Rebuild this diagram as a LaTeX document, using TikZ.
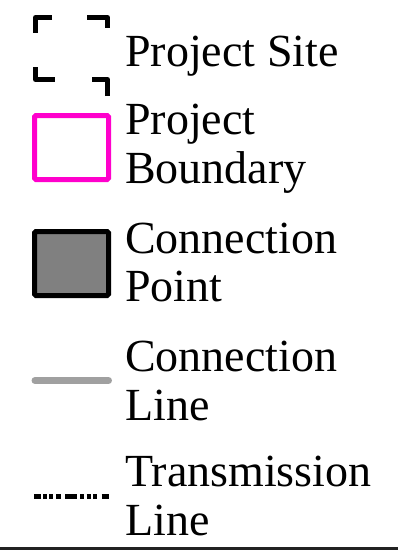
\documentclass[tikz,border=0pt]{standalone}
\usepackage{fontspec}
\setmainfont{Liberation Serif}
\definecolor{pbmag}{HTML}{FF00CC}
\definecolor{cpgray}{HTML}{808080}
\definecolor{clgray}{HTML}{A0A0A0}
\definecolor{rulec}{HTML}{222222}
\begin{document}
\begin{tikzpicture}[x=1pt,y=-1pt,
  lbl/.style={anchor=base west,align=left,inner sep=0pt,
    font=\fontsize{46}{48.3}\selectfont},
  sitecorner/.style={draw=black,line width=5pt,line join=round,line cap=butt},
  boxsym/.style={minimum width=74pt,minimum height=64pt,inner sep=0pt,
    line width=5pt,rounded corners=1.5pt},
]
\useasboundingbox (0,0) rectangle (398,551);
% Project Site
\coordinate (s1) at (35.5,17.5);
\coordinate (s2) at (107.5,17.5);
\coordinate (s3) at (107.5,79.5);
\coordinate (s4) at (35.5,79.5);
\draw[sitecorner] ([xshift=16.5pt]s1) -- (s1) -- ([yshift=-15.5pt]s1);
\draw[sitecorner] ([xshift=-20.5pt]s2) -- (s2) -- ([yshift=-10.5pt]s2);
\draw[sitecorner] ([yshift=-16.5pt]s3) -- (s3) -- ([xshift=-15.5pt]s3);
\draw[sitecorner] ([yshift=12.5pt]s4) -- (s4) -- ([xshift=19.5pt]s4);
\node[lbl] (tsite) at (125,66.7) {Project Site};
% Project Boundary
\node[boxsym,draw=pbmag,fill=white] (pb) at (71.5,147.5) {};
\node[lbl] (tpb) at (125,183) {Project\\Boundary};
% Connection Point
\node[boxsym,draw=black,fill=cpgray] (cp) at (71.5,263.5) {};
\node[lbl] (tcp) at (125,301.7) {Connection\\Point};
% Connection Line
\coordinate (cl1) at (35,380.5);
\coordinate (cl2) at (108.5,380.5);
\draw[clgray,line width=7pt,line cap=round] (cl1) -- (cl2);
\node[lbl] (tcl) at (125,420) {Connection\\Line};
% Transmission Line
\coordinate (tl1) at (34,496.7);
\coordinate (tl2) at (109.3,496.7);
\draw[black,line width=5pt,line cap=butt,
  dash pattern=on 6.7pt off 2.6pt on 4pt off 2pt on 4pt off 2.7pt on 4.7pt off 4.3pt on 11.7pt off 3.3pt on 4pt off 2.7pt on 4pt off 2.6pt on 4pt off 4.4pt on 7.6pt off 20pt]
  (tl1) -- (tl2);
\node[lbl] (ttl) at (125,535) {Transmission\\Line};
% bottom rule
\coordinate (r1) at (0,548.5);
\coordinate (r2) at (398,548.5);
\draw[rulec,line width=3pt] (r1) -- (r2);
\end{tikzpicture}
\end{document}
